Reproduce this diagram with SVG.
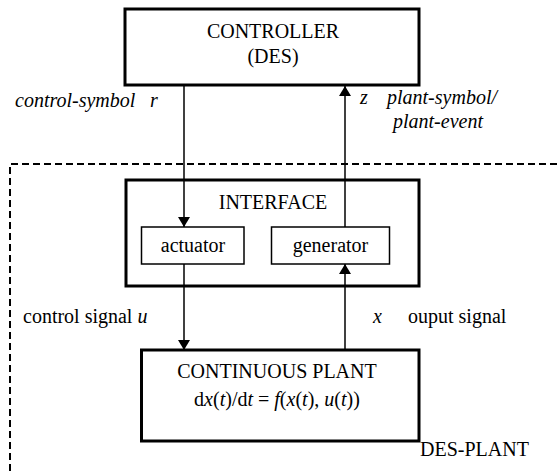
<svg xmlns="http://www.w3.org/2000/svg" width="559" height="471" viewBox="0 0 559 471" font-family="'Liberation Serif', 'Times New Roman', Times, 'DejaVu Serif', serif">
  <style>
    text { font-family: "Liberation Serif", "Times New Roman", Times, "DejaVu Serif", serif; font-size: 20px; fill: #000; }
    .it { font-style: italic; }
    .mid { text-anchor: middle; }
    .box { fill: #fff; stroke: #000; stroke-width: 3; }
    .sub { fill: #fff; stroke: #000; stroke-width: 1.5; }
    .wire { fill: none; stroke: #000; stroke-width: 1.5; }
    .frame { fill: none; stroke: #000; stroke-width: 2; stroke-dasharray: 7 4; }
  </style>
  <defs>
    <marker id="arrow" viewBox="0 0 10 14" refX="10" refY="7" markerWidth="10" markerHeight="14" markerUnits="userSpaceOnUse" orient="auto">
      <path d="M0,1 L10,7 L0,13 Z" fill="#000"/>
    </marker>
  </defs>

  <rect width="559" height="471" fill="#fff"/>

  <!-- DES-plant boundary (dashed, open to the right and bottom) -->
  <g id="des-plant">
    <path class="frame" d="M10,471 V164 H559"/>
    <text x="420" y="456">DES-PLANT</text>
  </g>

  <g id="controller">
    <rect class="box" x="125" y="9" width="294" height="76"/>
    <text class="mid" x="273" y="38">CONTROLLER</text>
    <text class="mid" x="273" y="63">(DES)</text>
  </g>

  <g id="interface">
    <rect class="box" x="126" y="180" width="293" height="106"/>
    <text class="mid" x="273" y="209">INTERFACE</text>
  </g>

  <g id="actuator">
    <rect class="sub" x="141.5" y="227" width="102.5" height="37"/>
    <text class="mid" x="193" y="252">actuator</text>
  </g>

  <g id="generator">
    <rect class="sub" x="271.5" y="227" width="118" height="37"/>
    <text class="mid" x="330.5" y="252">generator</text>
  </g>

  <g id="plant">
    <rect class="box" x="141.5" y="350" width="277.5" height="91"/>
    <text class="mid" x="277" y="378">CONTINUOUS PLANT</text>
    <text class="mid" x="277" y="406">d<tspan class="it">x</tspan>(<tspan class="it">t</tspan>)/d<tspan class="it">t</tspan> = <tspan class="it">f</tspan>(<tspan class="it">x</tspan>(<tspan class="it">t</tspan>), <tspan class="it">u</tspan>(<tspan class="it">t</tspan>))</text>
  </g>

  <g id="connectors">
    <line class="wire" x1="184" y1="86" x2="184" y2="227" marker-end="url(#arrow)"/>
    <line class="wire" x1="345" y1="227" x2="345" y2="86" marker-end="url(#arrow)"/>
    <line class="wire" x1="184" y1="264" x2="184" y2="350" marker-end="url(#arrow)"/>
    <line class="wire" x1="345" y1="350" x2="345" y2="264" marker-end="url(#arrow)"/>
  </g>

  <g id="labels">
    <text class="it" x="15" y="107">control-symbol</text>
    <text class="it" x="150" y="107">r</text>
    <text class="it" x="360" y="104">z</text>
    <text class="it" x="387" y="104">plant-symbol/</text>
    <text class="it" x="393" y="128">plant-event</text>
    <text x="23" y="323">control signal <tspan class="it">u</tspan></text>
    <text class="it" x="373" y="323">x</text>
    <text x="408" y="323">ouput signal</text>
  </g>
</svg>
